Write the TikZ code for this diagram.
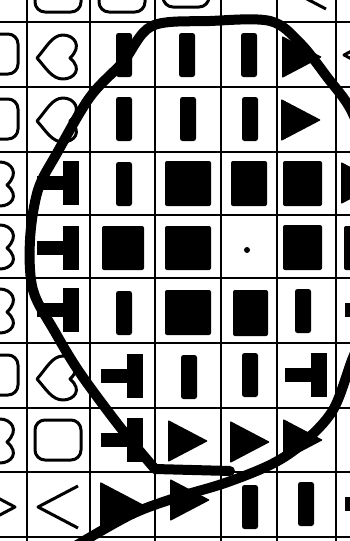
\documentclass[tikz,border=0pt]{standalone}
\usepackage{tikz}

\tikzset{
  gridline/.style={line width=2.8pt},
  symline/.style={draw=black, line width=3pt, line join=round},
  lasso/.style={line width=10pt, line cap=round, line join=round},
  barsym/.pic={\fill[rounded corners=2.5pt] (-8,-22) rectangle (8,22);},
  trisym/.pic={\fill[rounded corners=1pt] (-20,-21) -- (20,0) -- (-20,21) -- cycle;},
  teesym/.pic={\fill (5,-22) rectangle (21,22); \fill (-21,-7) rectangle (6,7);},
  heartsym/.pic={\draw[symline] (-21,2) .. controls (-12,-8) and (-6,-21) .. (5,-21)
      .. controls (16,-21) and (25,-10) .. (12,2)
      .. controls (25,13) and (16,23) .. (5,23)
      .. controls (-6,23) and (-12,12) .. (-21,2) -- cycle;},
  osym/.pic={\draw[symline, rounded corners=10pt] (-23,-20) rectangle (23,20);},
  chevsym/.pic={\draw[symline] (20,-21) -- (-20,0) -- (20,21);},
}

\begin{document}
\begin{tikzpicture}[x=1pt, y=-1pt]
    \useasboundingbox (0,0) rectangle (350,541);
    \fill[white] (0,0) rectangle (350,541);
    \clip (0,0) rectangle (350,541);

    % Griglia
    \draw[gridline] (27,0) -- (27,541);
    \draw[gridline] (90,0) -- (90,541);
    \draw[gridline] (155,0) -- (155,541);
    \draw[gridline] (221,0) -- (221,541);
    \draw[gridline] (277,0) -- (277,541);
    \draw[gridline] (336,0) -- (336,541);
    \draw[gridline] (0,22) -- (350,22);
    \draw[gridline] (0,87) -- (350,87);
    \draw[gridline] (0,152) -- (350,152);
    \draw[gridline] (0,215) -- (350,215);
    \draw[gridline] (0,278) -- (350,278);
    \draw[gridline] (0,343) -- (350,343);
    \draw[gridline] (0,408) -- (350,408);
    \draw[gridline] (0,472) -- (350,472);
    \draw[gridline] (0,537) -- (350,537);

    % === Row 0 (cut at top) ===
    \pic at (58,-8) {osym};
    \pic at (122,-8) {osym};
    \pic at (186,-13) {osym};
    \pic at (306,-12) {chevsym};
    % === Row 1 ===
    \pic at (-5,54) {osym};
    \pic at (58,56) {heartsym};
    \pic at (124,55) {barsym};
    \pic at (187,55) {barsym};
    \pic at (249,55) {barsym};
    \pic at (302,57) {trisym};
    \pic at (364,55) {chevsym};
    % === Row 2 ===
    \pic at (-5,119) {osym};
    \pic at (58,119) {heartsym};
    \pic at (124,119) {barsym};
    \pic at (188,119) {barsym};
    \pic at (250,119) {barsym};
    \pic at (301,120) {trisym};
    % === Row 3 ===
    \pic at (-5,183) {heartsym};
    \pic at (58,183) {teesym};
    \pic at (124,184) {barsym};
    \fill[rounded corners=2pt] (165,161) rectangle (211,206);
    \fill[rounded corners=2pt] (231,161) rectangle (267,206);
    \fill[rounded corners=2pt] (283,161) rectangle (322,206);
    \pic at (361,183) {trisym};
    % === Row 4 ===
    \pic at (-5,246) {heartsym};
    \pic at (58,248) {teesym};
    \fill[rounded corners=2pt] (102,226) rectangle (144,270);
    \fill[rounded corners=2pt] (165,226) rectangle (211,270);
    \fill (247,250) circle (3);
    \fill[rounded corners=2pt] (283,225) rectangle (322,270);
    \fill[rounded corners=2pt] (344,226) rectangle (390,270);
    % === Row 5 ===
    \pic at (-5,310) {heartsym};
    \pic at (58,310) {teesym};
    \pic at (124,313) {barsym};
    \fill[rounded corners=2pt] (165,290) rectangle (211,335);
    \fill[rounded corners=2pt] (233,290) rectangle (268,336);
    \pic at (303,311) {barsym};
    \pic at (366,310) {teesym};
    % === Row 6 ===
    \pic at (-5,375) {osym};
    \pic at (58,377) {heartsym};
    \pic at (122,376) {teesym};
    \pic at (189,377) {barsym};
    \pic at (250,375) {barsym};
    \pic at (306,375) {teesym};
    % === Row 7 ===
    \pic at (-5,440) {heartsym};
    \pic at (58,440) {osym};
    \pic at (122,440) {teesym};
    \pic at (188,441) {trisym};
    \pic at (250,442) {trisym};
    \pic at (303,440) {trisym};
    % === Row 8 ===
    \pic[xscale=-1] at (-5,507) {chevsym};
    \pic at (58,507) {chevsym};
    \pic[scale=1.1] at (122,505) {trisym};
    \pic at (190,500) {trisym};
    \pic at (250,507) {barsym};
    \pic at (306,504) {barsym};
    \pic at (366,504) {teesym};

    % Cerchio a mano
    \draw[lasso] (230,471) -- (155,469);
    \draw[lasso] plot[smooth, tension=0.55] coordinates {
        (155,469) (120,427) (80,373) (55,332) (33,290) (30,240) (38,190)
        (57,153) (90,97) (123,62) (152,26) (210,21) (270,21) (300,43)
        (327,77) (352,112) (372,170) (378,250) (368,320) (352,360)
        (333,410) (303,443) (272,464) (225,483) (175,498) (130,515) (72,548)};
\end{tikzpicture}
\end{document}
